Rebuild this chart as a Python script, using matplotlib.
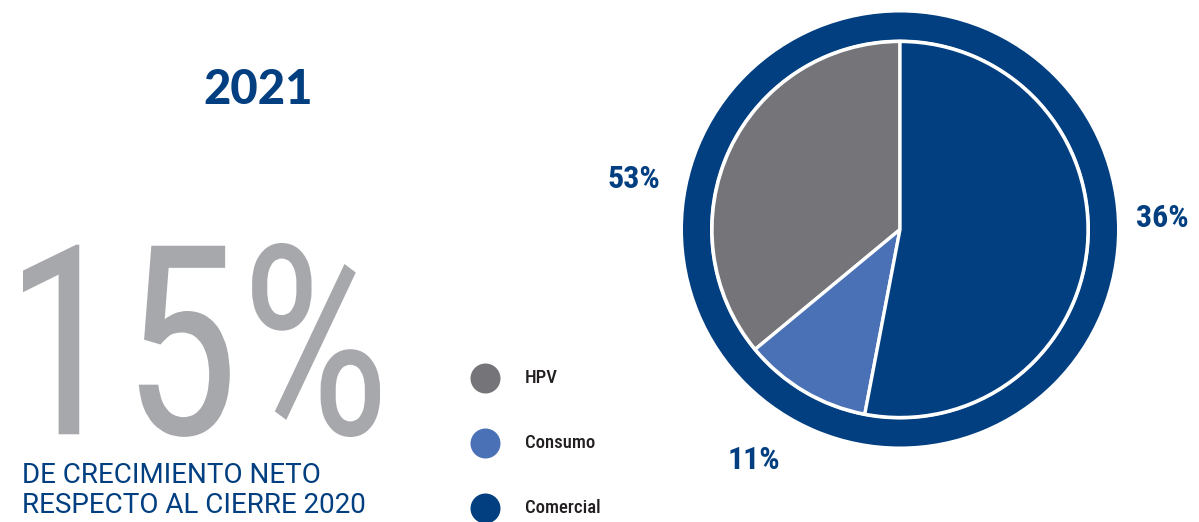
import matplotlib
matplotlib.use("Agg")
import matplotlib.pyplot as plt
from matplotlib.patches import Wedge, PathPatch
from matplotlib.textpath import TextPath
from matplotlib.font_manager import FontProperties
from matplotlib.transforms import Affine2D

# data
categories = ["HPV", "Consumo", "Comercial"]
shares = [36, 11, 53]
pct_labels = ["53%", "11%", "36%"]  # as printed next to each slice
colors = ["#757478", "#4a71b5", "#023f80"]

year = "2021"
growth = "15%"
subtitle = ["DE CRECIMIENTO NETO", "RESPECTO AL CIERRE 2020"]

NAVY = "#023f80"
W, H = 1199, 522

fig = plt.figure(figsize=(W / 100, H / 100), dpi=100)
ax = fig.add_axes([0, 0, 1, 1])


def Y(y):
    # pixel row (from the top) -> data y
    return H - y


# left block
ax.text(258, Y(90), year, ha="center", va="center", color=NAVY,
        family="Lato", fontweight=900, fontsize=34)

# big light figure, squeezed into its box (x 23..380, rows 243..437)
tp = TextPath((0, 0), growth, size=100,
              prop=FontProperties(family="Roboto Condensed", weight=400))
ext = tp.get_extents()
sx = (380 - 23) / ext.width
sy = (437 - 243) / ext.height
tr = Affine2D().translate(-ext.x0, -ext.y0).scale(sx, sy).translate(23, Y(437))
ax.add_patch(PathPatch(tr.transform_path(tp), color="#a7a8ac", lw=0))

for i, line in enumerate(subtitle):
    ax.text(22, Y(483 + 30 * i), line, ha="left", va="baseline", color=NAVY,
            family="Roboto", fontweight=400, fontsize=20)

# pie with outer ring
cx, cy = 900, Y(229.5)
ax.add_patch(Wedge((cx, cy), 217, 0, 360, width=27, color=NAVY, lw=0))
ax.pie(shares, colors=colors, startangle=90, counterclock=True,
       center=(cx, cy), radius=188, frame=True,
       wedgeprops=dict(edgecolor="white", linewidth=2.4))
ax.set_xlim(0, W)
ax.set_ylim(0, H)
ax.set_aspect("auto")
ax.axis("off")

label_pos = [(634, 179), (754, 460), (1162, 218)]
for txt, (lx, ly) in zip(pct_labels, label_pos):
    ax.text(lx, Y(ly), txt, ha="center", va="center", color=NAVY,
            family="Roboto Condensed", fontweight=700, fontsize=23)

# legend
for i, (name, col) in enumerate(zip(categories, colors)):
    yy = Y(378 + 65 * i)
    ax.scatter([485], [yy], s=(30 / 1.389) ** 2, color=col, lw=0)
    ax.text(525, yy, name, ha="left", va="center", color="#231f20",
            family="Roboto Condensed", fontweight=500, fontsize=13.5)

fig.savefig("out.png", dpi=100)
